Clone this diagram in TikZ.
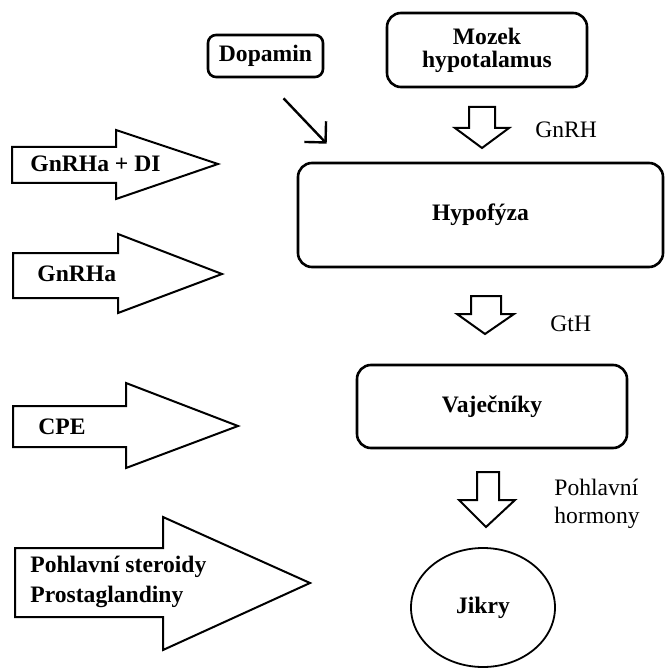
\documentclass[tikz,border=0pt]{standalone}
\usepackage{fontspec}
\setmainfont{Liberation Serif}
\usetikzlibrary{shapes.geometric,arrows.meta}

\begin{document}
\begin{tikzpicture}[x=0.5pt, y=-0.5pt, font=\fontsize{11.8}{14}\selectfont,
  main node/.style={draw, line width=1.3pt, rounded corners=7pt, inner sep=0pt, align=center, font=\fontsize{11.8}{11.5}\selectfont\bfseries},
  fat arrow/.style={draw, line width=1pt, line join=miter},
  drug node/.style={anchor=west, inner sep=0pt, align=left, font=\fontsize{11.8}{15}\selectfont\bfseries},
  hormone node/.style={anchor=west, inner sep=0pt, align=left, font=\fontsize{11.8}{14}\selectfont}]
\useasboundingbox (0,0) rectangle (664,668);

\node[main node, rounded corners=4pt, minimum width=57.5pt, minimum height=21pt] (dopamin) at (265.5,56) {Dopamin};
\node[main node, minimum width=100pt, minimum height=37pt] (mozek) at (487,50) {Mozek\\hypotalamus};
\node[main node, minimum width=182.5pt, minimum height=52pt] (hypo) at (480.5,215) {Hypofýza};
\node[main node, minimum width=135pt, minimum height=41.5pt] (ovary) at (492,406.5) {Vaječníky};
\node[main node, ellipse, sharp corners, line width=0.9pt, minimum width=72pt, minimum height=59.5pt] (jikry) at (483,607.5) {Jikry};

\coordinate (dopa tail) at ([shift={(18,20)}]dopamin.south);
\coordinate (dopa head) at ([shift={(30,-18)}]hypo.north west);
\draw[line width=1.2pt, -{Straight Barb[length=7.5pt, width=15pt]}] (dopa tail) -- (dopa head);

\draw[fat arrow] (469,107) -- (495,107) -- (495,128) -- (509,128) -- (482,148) -- (455,128) -- (469,128) -- cycle;
\draw[fat arrow] (471,296) -- (501,296) -- (501,314) -- (514,314) -- (485,334) -- (457,314) -- (471,314) -- cycle;
\draw[fat arrow] (477,472) -- (499,472) -- (499,500) -- (515,500) -- (486,527) -- (459,500) -- (477,500) -- cycle;

\node[hormone node] (gnrh) at (535,130) {GnRH};
\node[hormone node] (gth) at (550,324) {GtH};
\node[hormone node] (sexhorm) at (554,504) {Pohlavní\\hormony};

\draw[fat arrow] (12,147) -- (116,147) -- (116,130) -- (218,164) -- (116,199) -- (116,183) -- (12,183) -- cycle;
\draw[fat arrow] (13,253) -- (118,253) -- (118,234) -- (222,274) -- (118,313) -- (118,298) -- (13,298) -- cycle;
\draw[fat arrow] (13,406) -- (126,406) -- (126,383) -- (238,426) -- (126,468) -- (126,447) -- (13,447) -- cycle;
\draw[fat arrow] (15,548) -- (163,548) -- (163,517) -- (310,583) -- (163,650) -- (163,617) -- (15,617) -- cycle;

\node[drug node] (gnrhadi) at (30,164) {GnRHa + DI};
\node[drug node] (gnrha) at (37,274) {GnRHa};
\node[drug node] (cpe) at (38,427) {CPE};
\node[drug node] (steroids) at (30,582) {Pohlavní steroidy\\Prostaglandiny};
\end{tikzpicture}
\end{document}
